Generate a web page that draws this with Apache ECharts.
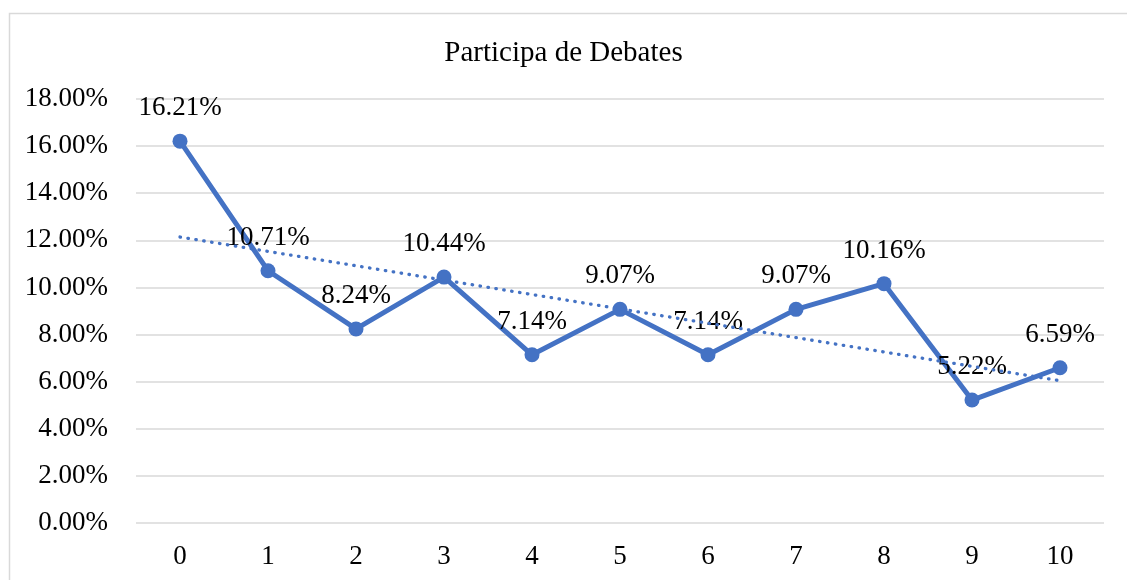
<!DOCTYPE html>
<html><head><meta charset="utf-8">
<script src="https://cdn.jsdelivr.net/npm/echarts@6/dist/echarts.min.js"></script>
<style>html,body{margin:0;padding:0;background:#fff}#c{width:1127px;height:580px}</style>
</head><body><div id="c"></div>
<script>
const titleText = 'Participa de Debates';
const categories = ['0','1','2','3','4','5','6','7','8','9','10'];
const values = [16.21, 10.71, 8.24, 10.44, 7.14, 9.07, 7.14, 9.07, 10.16, 5.22, 6.59];
// linear trendline end points (at x=0 and x=10)
const trendStart = 12.14;
const trendEnd = 6.04;
const yTicks = [0, 2, 4, 6, 8, 10, 12, 14, 16, 18];

const trend = categories.map((c, i) => i === 0 ? trendStart : (i === categories.length - 1 ? trendEnd : null));
const FONT = '"Liberation Serif", "Times New Roman", serif';
const BLUE = '#4472C4';
const chart = echarts.init(document.getElementById('c'), null, {renderer: 'canvas'});
chart.setOption({
  animation: false,
  backgroundColor: '#fff',
  graphic: [{
    type: 'rect', left: 7, top: 11, shape: {width: 1300, height: 800},
    style: {fill: 'none', stroke: '#d9d9d9', lineWidth: 1.5}, silent: true, z: -1
  }],
  title: {
    text: titleText, left: 'center', top: 34,
    textStyle: {fontFamily: FONT, fontSize: 29, fontWeight: 'normal', color: '#000'}
  },
  grid: {left: 136, right: 23, top: 99, bottom: 57, containLabel: false},
  xAxis: {
    type: 'category', data: categories, boundaryGap: true,
    axisLine: {show: false}, axisTick: {show: false},
    axisLabel: {fontFamily: FONT, fontSize: 27, color: '#000', margin: 20}
  },
  yAxis: {
    type: 'value', min: yTicks[0], max: yTicks[yTicks.length - 1], interval: 2,
    axisLine: {show: false}, axisTick: {show: false},
    splitLine: {lineStyle: {color: '#d9d9d9', width: 1.5}},
    axisLabel: {fontFamily: FONT, fontSize: 27, color: '#000', margin: 28,
      formatter: v => v.toFixed(2) + '%'}
  },
  series: [{
    type: 'line', data: values, symbol: 'circle', symbolSize: 15,
    lineStyle: {color: BLUE, width: 5}, itemStyle: {color: BLUE},
    label: {show: true, position: 'top', distance: 12, fontFamily: FONT, fontSize: 27, color: '#000',
      formatter: p => p.value.toFixed(2) + '%'},
    z: 3
  }, {
    type: 'line', data: trend, connectNulls: true, symbol: 'none',
    lineStyle: {color: BLUE, width: 3.3, type: [0.5, 7.5], cap: 'round'},
    z: 4
  }]
});
</script></body></html>
